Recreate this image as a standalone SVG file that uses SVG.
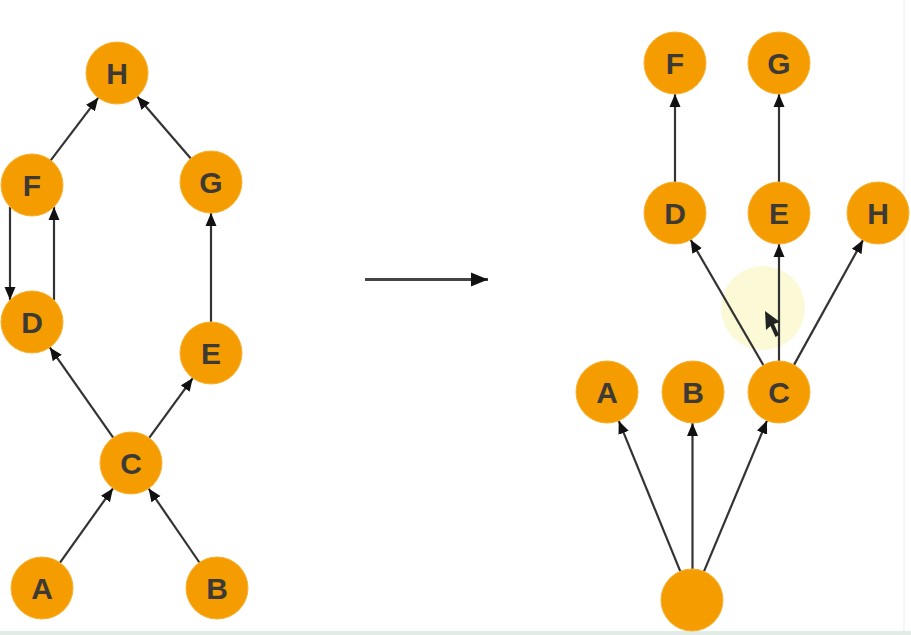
<svg xmlns="http://www.w3.org/2000/svg" width="911" height="635" viewBox="0 0 911 635">
<defs>
<style>
.n circle{fill:#f59c00;stroke:#f7b233;stroke-width:1}
.n text{font-family:"Liberation Sans",Arial,sans-serif;font-weight:bold;font-size:30px;fill:#3d3a35;text-anchor:middle}
.e line{stroke:#333;stroke-width:2.2;fill:none;marker-end:url(#ah)}
</style>
<marker id="ah" markerUnits="userSpaceOnUse" markerWidth="14" markerHeight="12" refX="13" refY="6" orient="auto"><path d="M0,0.5 L13,6 L0,11.5 z" fill="#111"/></marker>
<marker id="ah2" markerUnits="userSpaceOnUse" markerWidth="18" markerHeight="16" refX="17" refY="8" orient="auto"><path d="M0,1 L17,8 L0,15 z" fill="#111"/></marker>
</defs>
<rect width="911" height="635" fill="#ffffff"/>
<rect x="0" y="631" width="911" height="4" fill="#e2ece7"/>
<line x1="904" y1="0" x2="904" y2="631" stroke="#f1f4f3" stroke-width="1.5"/>
<circle cx="763" cy="308" r="42" fill="#fcf9d6"/>
<g id="connectors" class="e">
<line x1="50.7" y1="160.3" x2="98.3" y2="97.7"/>
<line x1="190.8" y1="158.5" x2="137.2" y2="96.5"/>
<line x1="10" y1="207" x2="10" y2="300"/>
<line x1="54" y1="300" x2="54" y2="207"/>
<line x1="211" y1="322" x2="211" y2="213"/>
<line x1="113.2" y1="437.6" x2="49.8" y2="347.4"/>
<line x1="149.2" y1="437.9" x2="192.8" y2="378.1"/>
<line x1="60" y1="562.7" x2="113" y2="488.3"/>
<line x1="199.4" y1="562.5" x2="148.6" y2="488.5"/>
<line x1="675" y1="182" x2="675" y2="94"/>
<line x1="779" y1="182" x2="779" y2="94"/>
<line x1="763.4" y1="365.2" x2="690.6" y2="239.8"/>
<line x1="779" y1="361" x2="779" y2="244"/>
<line x1="794" y1="364.9" x2="863" y2="240.1"/>
<line x1="680.3" y1="571.3" x2="618.7" y2="420.7"/>
<line x1="692.5" y1="569" x2="692.5" y2="423"/>
<line x1="704" y1="571.4" x2="767" y2="420.6"/>
<line x1="365" y1="279.5" x2="488" y2="279.5" style="stroke:#444;stroke-width:3;marker-end:url(#ah2)"/>
</g>
<polygon points="765,311 766,330 770.5,326 775.5,337 779,335 774,324 780,322" fill="#222"/>
<g id="L-H" class="n"><circle cx="117" cy="73" r="31"/><text x="117" y="84">H</text></g>
<g id="L-F" class="n"><circle cx="32" cy="185" r="31"/><text x="32" y="196">F</text></g>
<g id="L-G" class="n"><circle cx="211" cy="182" r="31"/><text x="211" y="193">G</text></g>
<g id="L-D" class="n"><circle cx="32" cy="322" r="31"/><text x="32" y="333">D</text></g>
<g id="L-E" class="n"><circle cx="211" cy="353" r="31"/><text x="211" y="364">E</text></g>
<g id="L-C" class="n"><circle cx="131" cy="463" r="31"/><text x="131" y="474">C</text></g>
<g id="L-A" class="n"><circle cx="42" cy="588" r="31"/><text x="42" y="599">A</text></g>
<g id="L-B" class="n"><circle cx="217" cy="588" r="31"/><text x="217" y="599">B</text></g>
<g id="R-F" class="n"><circle cx="675" cy="63" r="31"/><text x="675" y="74">F</text></g>
<g id="R-G" class="n"><circle cx="779" cy="63" r="31"/><text x="779" y="74">G</text></g>
<g id="R-D" class="n"><circle cx="675" cy="213" r="31"/><text x="675" y="224">D</text></g>
<g id="R-E" class="n"><circle cx="779" cy="213" r="31"/><text x="779" y="224">E</text></g>
<g id="R-H" class="n"><circle cx="878" cy="213" r="31"/><text x="878" y="224">H</text></g>
<g id="R-A" class="n"><circle cx="607" cy="392" r="31"/><text x="607" y="403">A</text></g>
<g id="R-B" class="n"><circle cx="693" cy="392" r="31"/><text x="693" y="403">B</text></g>
<g id="R-C" class="n"><circle cx="779" cy="392" r="31"/><text x="779" y="403">C</text></g>
<g id="R-root" class="n"><circle cx="692" cy="600" r="31"/></g>
</svg>
